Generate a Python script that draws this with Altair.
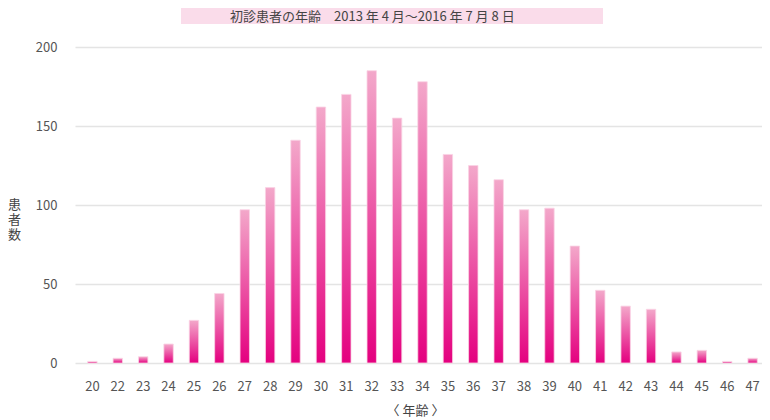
import altair as alt
import pandas as pd

ages = [20, 22, 23, 24, 25, 26, 27, 28, 29, 30, 31, 32, 33, 34, 35, 36, 37,
        38, 39, 40, 41, 42, 43, 44, 45, 46, 47]
patients = [1, 3, 4, 12, 27, 44, 97, 111, 141, 162, 170, 185, 155, 178, 132,
            125, 116, 97, 98, 74, 46, 36, 34, 7, 8, 1, 3]
y_ticks = [0, 50, 100, 150, 200]
title_text = "初診患者の年齢　2013 年 4 月～2016 年 7 月 8 日"
x_title = "〈 年齢 〉"
y_title = "患\n者\n数"

FONT = "Noto Sans CJK JP"

df = pd.DataFrame({"age": ages, "patients": patients})

bars = alt.Chart(df).mark_bar(
    color=alt.Gradient(
        gradient="linear",
        stops=[alt.GradientStop(color="#F3A8CA", offset=0),
               alt.GradientStop(color="#E4007F", offset=1)],
        x1=0, x2=0, y1=0, y2=1,
    ),
    stroke="#FAD3E4",
    strokeWidth=0.8,
).encode(
    x=alt.X("age:O",
            scale=alt.Scale(paddingInner=0.63, paddingOuter=0.5),
            axis=alt.Axis(title=x_title, labelAngle=0, labelPadding=17,
                          ticks=False, domain=False, labelFontSize=13,
                          labelColor="#555555", titleFontSize=13,
                          titleColor="#444444", titleFontWeight="normal",
                          titleX=340, titleY=47, titleBaseline="middle",
                          titleAlign="center", labelFont=FONT, titleFont=FONT)),
    y=alt.Y("patients:Q",
            scale=alt.Scale(domain=[0, 200], nice=False),
            axis=alt.Axis(values=y_ticks, title=None, labelFontSize=13,
                          labelColor="#555555", labelPadding=18, ticks=False,
                          domain=False, gridColor="#E4E4E4", gridWidth=1.6,
                          labelFont=FONT)),
)

tdf = pd.DataFrame({"t": [title_text]})
title_bg = alt.Chart(tdf).mark_rect(color="#FADCEA").encode(
    x=alt.value(106), x2=alt.value(528), y=alt.value(-47), y2=alt.value(-23)
)
title_txt = alt.Chart(tdf).mark_text(
    align="left", baseline="middle", fontSize=13, color="#444444", font=FONT
).encode(x=alt.value(155), y=alt.value(-30.5), text="t:N")

ydf = pd.DataFrame({"t": [y_title]})
y_title_txt = alt.Chart(ydf).mark_text(
    align="left", baseline="middle", fontSize=13, color="#444444", font=FONT,
    lineBreak="\n", lineHeight=15
).encode(x=alt.value(-67), y=alt.value(158), text="t:N")

chart = alt.layer(title_bg, title_txt, y_title_txt, bars).properties(
    width=695, height=316,
    autosize=alt.AutoSizeParams(type="none"),
    padding={"left": 67, "top": 39, "right": -8, "bottom": 57},
).configure_view(stroke=None)

chart.save("out.html", embed_options={"renderer": "svg", "actions": False})
